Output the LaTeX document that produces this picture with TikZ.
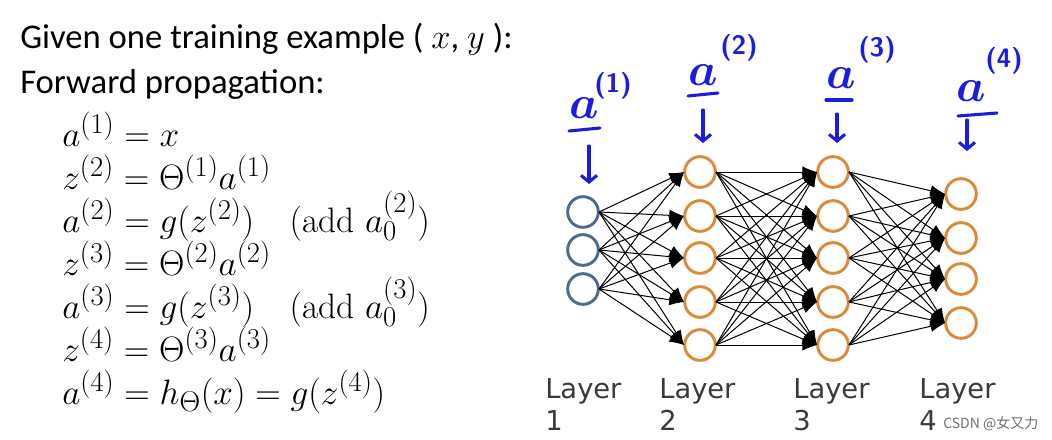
\RequirePackage{fix-cm}
\documentclass[tikz,border=0pt]{standalone}
\usepackage{fontspec}
\newfontfamily\calibri{Carlito}
\newfontfamily\dejavu{DejaVu Sans}
\newfontfamily\cjk{Noto Sans CJK SC}
\usetikzlibrary{arrows.meta}
\DeclareMathSizes{26.5}{26.5}{21.5}{15}
\definecolor{inblue}{HTML}{4F6A8C}
\definecolor{hidorange}{HTML}{DA8A3A}
\definecolor{penblue}{HTML}{1C1CE0}
\definecolor{labelgray}{HTML}{3A3A3A}
\definecolor{markgray}{HTML}{707070}
\begin{document}
\begin{tikzpicture}[x=0.75pt,y=-0.75pt,
  neuron/.style={circle,draw,line width=2.2pt,minimum size=23pt,inner sep=0pt,outer sep=0.5pt},
  innode/.style={neuron,draw=inblue},
  hidnode/.style={neuron,draw=hidorange},
  conn/.style={-{Latex[length=11pt,width=8.5pt]},line width=0.75pt,black},
  headtext/.style={anchor=base west,inner sep=0pt,font=\calibri\fontsize{26}{30}\selectfont},
  eqtext/.style={anchor=base west,inner sep=0pt,font=\fontsize{26.5}{30}\selectfont},
  layertext/.style={anchor=base west,inner sep=0pt,align=left,text=labelgray,font=\dejavu\fontsize{20.5}{24}\selectfont},
  pena/.style={inner sep=0pt,text=penblue,font=\fontsize{35}{35}\selectfont\boldmath},
  pensup/.style={inner sep=0pt,text=penblue,font=\sffamily\bfseries\fontsize{20}{20}\selectfont},
  penline/.style={penblue,line width=2.3pt,line cap=round},
  penarrow/.style={penblue,line width=2.3pt,line cap=round,-{Straight Barb[length=5pt,width=12pt]}}
]
\useasboundingbox (0,0) rectangle (1052,439);
\fill[white] (0,0) rectangle (1052,439);

% left text
\node[headtext] (given) at (20,48) {Given one training example ( $x$, $y$ ):};
\node[headtext] (fwd) at (20,93) {Forward propagation:};
\node[eqtext] (e1) at (62,146) {$a^{(1)} = x$};
\node[eqtext] (e2) at (62,189) {$z^{(2)} = \Theta^{(1)}a^{(1)}$};
\node[eqtext] (e3) at (62,232) {$a^{(2)} = g(z^{(2)})\quad (\mathrm{add}\ a_0^{(2)})$};
\node[eqtext] (e4) at (62,275) {$z^{(3)} = \Theta^{(2)}a^{(2)}$};
\node[eqtext] (e5) at (62,318) {$a^{(3)} = g(z^{(3)})\quad (\mathrm{add}\ a_0^{(3)})$};
\node[eqtext] (e6) at (62,361) {$z^{(4)} = \Theta^{(3)}a^{(3)}$};
\node[eqtext] (e7) at (62,404) {$a^{(4)} = h_\Theta(x) = g(z^{(4)})$};

% network nodes
\foreach \j/\y in {1/212,2/250,3/289} \node[innode] (a\j) at (583,\y) {};
\foreach \j/\y in {1/172,2/216,3/258,4/302,5/345} \node[hidnode] (b\j) at (700,\y) {};
\foreach \j/\y in {1/172,2/216,3/258,4/302,5/345} \node[hidnode] (c\j) at (833,\y) {};
\foreach \j/\y in {1/194,2/238,3/279,4/323} \node[hidnode] (d\j) at (961,\y) {};

% connections
\foreach \i in {1,2,3} \foreach \j in {1,...,5} \draw[conn] (a\i.east) -- (b\j.west);
\foreach \i in {1,...,5} \foreach \j in {1,...,5} \draw[conn] (b\i.east) -- (c\j.west);
\foreach \i in {1,...,5} \foreach \j in {1,...,4} \draw[conn] (c\i.east) -- (d\j.west);

% handwritten annotations
\node[pena] (h1) at (584,108) {$a$};
\node[pensup] (s1) at (613,86) {(1)};
\draw[penline] (569,131) -- (600,128);
\coordinate (t1) at (589,146);
\coordinate (u1) at (589,184);
\draw[penarrow] (t1) -- (u1);

\node[pena] (h2) at (703,75) {$a$};
\node[pensup] (s2) at (739,48) {(2)};
\draw[penline] (688,96) -- (718,93);
\coordinate (t2) at (703,110);
\coordinate (u2) at (703,143);
\draw[penarrow] (t2) -- (u2);

\node[pena] (h3) at (841,78) {$a$};
\node[pensup] (s3) at (877,50) {(3)};
\draw[penline] (826,100) -- (852,100);
\coordinate (t3) at (837,114);
\coordinate (u3) at (837,143);
\draw[penarrow] (t3) -- (u3);

\node[pena] (h4) at (971,91) {$a$};
\node[pensup] (s4) at (1004,61) {(4)};
\draw[penline] (958,116) -- (997,113);
\coordinate (t4) at (967,120);
\coordinate (u4) at (967,151);
\draw[penarrow] (t4) -- (u4);

% layer labels
\node[layertext] (l1) at (545,430) {Layer\\1};
\node[layertext] (l2) at (659,430) {Layer\\2};
\node[layertext] (l3) at (793,430) {Layer\\3};
\node[layertext] (l4) at (919,430) {Layer\\4};

% watermark
\node[anchor=base west,inner sep=0pt,text=markgray,font=\cjk\fontsize{10.5}{12}\selectfont] (wm) at (943,428) {CSDN @女又力};
\end{tikzpicture}
\end{document}
